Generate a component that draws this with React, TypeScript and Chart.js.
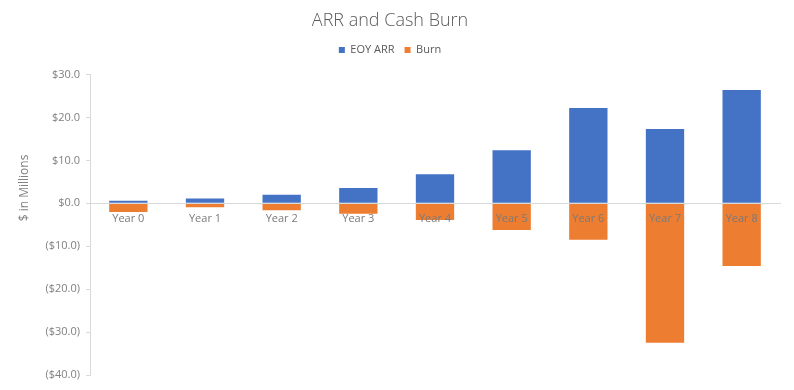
import React, { useEffect, useRef } from "react";
import { Chart, registerables } from "chart.js";

Chart.register(...registerables);

const categories = ["Year 0", "Year 1", "Year 2", "Year 3", "Year 4", "Year 5", "Year 6", "Year 7", "Year 8"];
const arrValues = [0.6, 1.1, 2.0, 3.6, 6.8, 12.4, 22.2, 17.3, 26.4];
const burnValues = [-2.0, -0.9, -1.6, -2.4, -3.9, -6.2, -8.5, -32.5, -14.6];
const yMin = -40;
const yMax = 30;
const yStep = 10;
const titleText = "ARR and Cash Burn";
const yTitleText = "$ in Millions";
const seriesNames = ["EOY ARR", "Burn"];

const FONT = "'Open Sans', Lato, sans-serif";

const fmt = (v: number) => (v < 0 ? `($${Math.abs(v).toFixed(1)})` : `$${v.toFixed(1)}`);

const legendSpacer = {
  id: "legendSpacer",
  beforeInit(chart: any) {
    const orig = chart.legend.fit;
    chart.legend.fit = function () {
      orig.call(this);
      this.height += 9;
    };
  },
};

const yTitlePlugin = {
  id: "yTitlePlugin",
  afterDraw(chart: any) {
    const ctx = chart.ctx;
    ctx.save();
    ctx.translate(25, 188);
    ctx.rotate(-Math.PI / 2);
    ctx.font = `12px ${FONT}`;
    ctx.fillStyle = "#808080";
    ctx.textAlign = "center";
    ctx.textBaseline = "middle";
    ctx.fillText(yTitleText, 0, 0);
    ctx.restore();
  },
};

export default function App() {
  const ref = useRef<HTMLCanvasElement>(null);
  useEffect(() => {
    if (!ref.current) return;
    const chart = new Chart(ref.current, {
      type: "bar",
      data: {
        labels: categories,
        datasets: [
          { label: seriesNames[0], data: arrValues, backgroundColor: "#4472C4", borderWidth: 0 },
          { label: seriesNames[1], data: burnValues, backgroundColor: "#ED7D31", borderWidth: 0 },
        ],
      },
      plugins: [legendSpacer, yTitlePlugin],
      options: {
        responsive: false,
        animation: false,
        layout: { padding: { top: 0, right: 14, bottom: 15, left: 0 } },
        datasets: { bar: { barPercentage: 0.5, categoryPercentage: 1 } },
        plugins: {
          title: {
            display: true,
            text: titleText,
            color: "#595959",
            font: { family: FONT, size: 18, weight: "300" },
            padding: { top: 10, bottom: 3 },
          },
          legend: {
            display: true,
            labels: {
              boxWidth: 6,
              boxHeight: 6,
              color: "#595959",
              font: { family: FONT, size: 11 },
              padding: 10,
            },
          },
          tooltip: { enabled: false },
        },
        scales: {
          x: {
            stacked: true,
            position: { y: 0 } as any,
            grid: { display: false, drawTicks: false },
            border: { display: true, color: "#d9d9d9", width: 1, z: 1 },
            ticks: { color: "#7a7a7a", font: { family: FONT, size: 11 }, padding: 9, z: 1 },
          },
          y: {
            stacked: true,
            min: yMin,
            max: yMax,
            afterFit: (scale: any) => {
              scale.width = 90;
            },
            grid: { drawOnChartArea: false, drawTicks: true, tickLength: 4, color: "#d9d9d9" },
            border: { display: true, color: "#d9d9d9", width: 1 },
            ticks: {
              stepSize: yStep,
              color: "#808080",
              font: { family: FONT, size: 11 },
              padding: 6,
              callback: (v: any) => fmt(Number(v)),
            },
          },
        },
      },
    });
    return () => chart.destroy();
  }, []);
  return (
    <div style={{ position: "absolute", left: 0, top: 0, width: 794, height: 390, background: "#fff" }}>
      <canvas ref={ref} width={794} height={390} />
    </div>
  );
}
